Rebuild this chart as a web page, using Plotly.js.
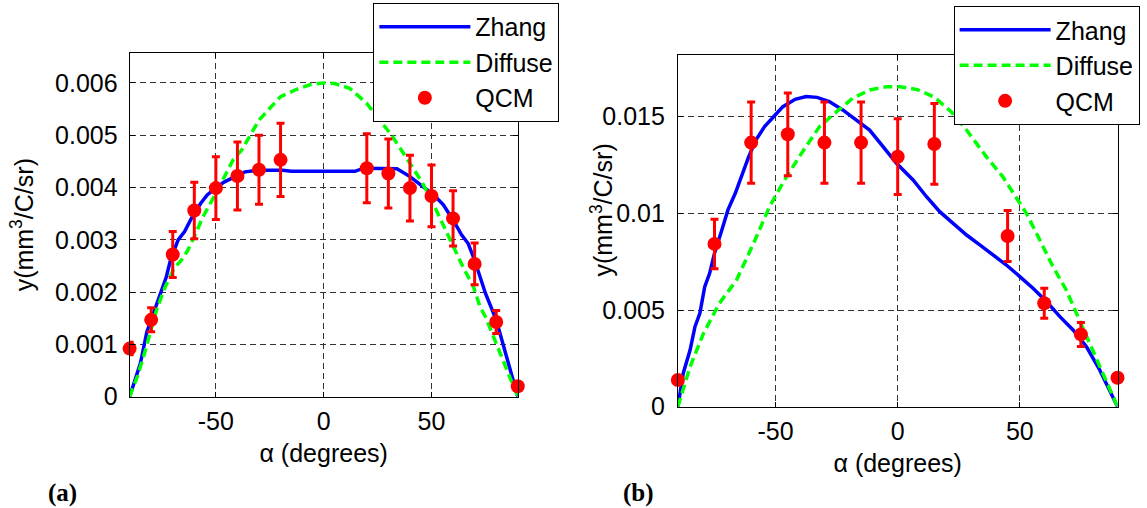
<!DOCTYPE html>
<html>
<head>
<meta charset="utf-8">
<script src="https://cdn.plot.ly/plotly-3.0.1.min.js"></script>
<style>
html,body{margin:0;padding:0;background:#fff;}
#chart{width:1147px;height:508px;}
</style>
</head>
<body>
<div id="chart"></div>
<script>
// ---------- Panel (a) data ----------
const zhangAx = [-90,-85,-82,-80.5,-76,-73,-71,-67.5,-64.5,-61,-57,-54,-50.5,-46,-41,-36.5,-31,-19,-15,14.5,18.5,34,40,46,51,55.5,60,64,67,70,72.5,75,80,85,90];
const zhangAy = [0,0.00064,0.00124,0.00142,0.00191,0.00229,0.00262,0.00300,0.00316,0.00344,0.00370,0.00386,0.00398,0.00411,0.00421,0.00430,0.00433,0.00433,0.00431,0.00431,0.00437,0.00436,0.00421,0.00403,0.00386,0.00367,0.00338,0.00309,0.00293,0.00261,0.00229,0.00198,0.00147,0.00073,0];

const diffAx = [-90,-86.5,-83.5,-80.5,-77.5,-73.5,-69.5,-66,-63,-60,-56,-52.5,-49.5,-46,-42,-38,-30,-20,-12.5,-6,0,5,12,20,26,31.5,36,41,45.5,50,54.5,59.5,64.5,69.5,72.5,75,80,85,90];
const diffAy = [0,0.00038,0.00077,0.00121,0.00166,0.00210,0.00245,0.00261,0.00280,0.00306,0.00344,0.00370,0.00395,0.00421,0.00453,0.00472,0.00529,0.00574,0.00588,0.00597,0.00600,0.00599,0.00590,0.00561,0.00529,0.00500,0.00472,0.00440,0.00411,0.00376,0.00338,0.00293,0.00249,0.00210,0.00172,0.00153,0.00102,0.00051,0];

const qcmAx = [-90,-80,-70,-60,-50,-40,-30,-20,20,30,40,50,60,70,80,90];
const qcmAy = [0.00092,0.00147,0.00272,0.00356,0.00399,0.00422,0.00434,0.00453,0.00437,0.00427,0.00399,0.00384,0.00341,0.00254,0.00143,0.00020];
const qcmAerr = [0.00012,0.00023,0.00044,0.00054,0.00060,0.00065,0.00066,0.00070,0.00066,0.00066,0.00063,0.00059,0.00053,0.00040,0.00022,0];

// ---------- Panel (b) data ----------
const zhangBx = [-90,-87.8,-85,-83,-81,-79,-77,-75,-72,-69.5,-66.5,-64,-61,-58,-54.5,-51,-47,-42,-37.5,-33,-28,-22.5,-17,-11.5,-6,-0.5,6.3,11.8,17.2,22.7,28.2,33.6,39.1,44.5,50,55.4,61,66.4,71.8,77.3,82.7,86.8,90];
const zhangBy = [0,0.00173,0.00293,0.00414,0.00483,0.00621,0.00690,0.00794,0.00914,0.01018,0.01104,0.01190,0.01293,0.01380,0.01449,0.01497,0.01552,0.01590,0.01604,0.01600,0.01578,0.01535,0.01483,0.01431,0.01345,0.01259,0.01173,0.01086,0.01009,0.00949,0.00888,0.00837,0.00785,0.00733,0.00673,0.00613,0.00543,0.00466,0.00397,0.00310,0.00190,0.00086,0];

const diffBx = [-90,-85,-79.5,-73,-66,-59,-52.5,-45.5,-38.5,-32,-25,-18.5,-11.5,-4.5,1,8,14.8,22,28.2,36.3,43,49.3,52.7,58.2,63.6,69,73.2,77.3,82.7,86.8,90];
const diffBy = [0,0.00207,0.00380,0.00535,0.00655,0.00845,0.01035,0.01190,0.01328,0.01449,0.01526,0.01595,0.01638,0.01655,0.01655,0.01640,0.01603,0.01525,0.01431,0.01293,0.01190,0.01069,0.01000,0.00862,0.00724,0.00604,0.00483,0.00362,0.00207,0.00086,0];

const qcmBx = [-90,-75,-60,-45,-30,-15,0,15,45,60,75,90];
const qcmBy = [0.00138,0.00842,0.01366,0.01409,0.01366,0.01366,0.01293,0.01359,0.00883,0.00535,0.00374,0.00150];
const qcmBerr = [0,0.00128,0.00210,0.00214,0.00210,0.00210,0.00196,0.00209,0.00132,0.00078,0.00062,0];

// ---------- tick labels & texts ----------
const xTickVals = [-50,0,50];
const xTickText = ['-50','0','50'];
const yTickValsA = [0,0.001,0.002,0.003,0.004,0.005,0.006];
const yTickTextA = ['0','0.001','0.002','0.003','0.004','0.005','0.006'];
const yTickValsB = [0,0.005,0.01,0.015];
const yTickTextB = ['0','0.005','0.01','0.015'];

const seriesNames = ['Zhang','Diffuse','QCM'];
const panelLabels = ['(a)','(b)'];
const xTitleText = 'α (degrees)';
const yTitleText = 'y(mm<sup>3</sup>/C/sr)';

const FONT = 'Liberation Sans, Arial, Helvetica, sans-serif';
const SERIF = 'Liberation Serif, Times New Roman, serif';
const BLUE = '#0000ff', GREEN = '#00ff00', RED = '#ff0000';

function lineTrace(x, y, name, color, dash, xa, ya, lg) {
  return {x: x, y: y, name: name, type: 'scatter', mode: 'lines',
    line: {color: color, width: 3.5, dash: dash},
    xaxis: xa, yaxis: ya, legend: lg, hoverinfo: 'skip', cliponaxis: false};
}
function qcmTrace(x, y, err, xa, ya, lg) {
  return {x: x, y: y, name: seriesNames[2], type: 'scatter', mode: 'markers',
    marker: {color: RED, size: 14},
    error_y: {type: 'data', array: err, visible: true, color: RED, thickness: 3, width: 4},
    xaxis: xa, yaxis: ya, legend: lg, hoverinfo: 'skip', cliponaxis: false};
}

const data = [
  lineTrace(zhangAx, zhangAy, seriesNames[0], BLUE, 'solid', 'x', 'y', 'legend'),
  lineTrace(diffAx, diffAy, seriesNames[1], GREEN, '9px,5px', 'x', 'y', 'legend'),
  qcmTrace(qcmAx, qcmAy, qcmAerr, 'x', 'y', 'legend'),
  lineTrace(zhangBx, zhangBy, seriesNames[0], BLUE, 'solid', 'x2', 'y2', 'legend2'),
  lineTrace(diffBx, diffBy, seriesNames[1], GREEN, '9px,5px', 'x2', 'y2', 'legend2'),
  qcmTrace(qcmBx, qcmBy, qcmBerr, 'x2', 'y2', 'legend2')
];

function baseAxis() {
  return {
    showline: true, linecolor: '#000', linewidth: 1, mirror: 'ticks',
    ticks: 'inside', ticklen: 5, tickcolor: '#000', tickwidth: 1,
    showgrid: true, gridcolor: '#333', gridwidth: 1, griddash: '6px,4px',
    zeroline: false, tickfont: {family: FONT, size: 25, color: '#000'},
    fixedrange: true
  };
}

const titleFont = {family: FONT, size: 25, color: '#000'};

const layout = {
  width: 1147, height: 508,
  margin: {l: 0, r: 0, t: 0, b: 0},
  paper_bgcolor: '#fff', plot_bgcolor: '#fff',
  font: {family: FONT, size: 25, color: '#000'},
  xaxis: Object.assign(baseAxis(), {domain: [0.1130, 0.4514], range: [-90, 90], anchor: 'y',
    tickvals: xTickVals, ticktext: xTickText, ticklabelstandoff: 2,
    title: {text: xTitleText, font: titleFont, standoff: 10}}),
  yaxis: Object.assign(baseAxis(), {domain: [0.2191, 0.8963], range: [0, 0.00658], anchor: 'x',
    tickvals: yTickValsA, ticktext: yTickTextA, ticklabelstandoff: 6,
    title: {text: yTitleText, font: titleFont, standoff: 14}}),
  xaxis2: Object.assign(baseAxis(), {domain: [0.5910, 0.9743], range: [-90, 90], anchor: 'y2',
    tickvals: xTickVals, ticktext: xTickText, ticklabelstandoff: 2,
    title: {text: xTitleText, font: titleFont, standoff: 10}}),
  yaxis2: Object.assign(baseAxis(), {domain: [0.1994, 0.8913], range: [0, 0.01818], anchor: 'x2',
    tickvals: yTickValsB, ticktext: yTickTextB, ticklabelstandoff: 7}),
  legend: {x: 0.3255, y: 0.9941, xanchor: 'left', yanchor: 'top', bgcolor: '#fff',
    bordercolor: '#000', borderwidth: 1, font: {family: FONT, size: 25, color: '#000'},
    itemwidth: 91},
  legend2: {x: 0.8314, y: 0.9880, xanchor: 'left', yanchor: 'top', bgcolor: '#fff',
    bordercolor: '#000', borderwidth: 1, font: {family: FONT, size: 25, color: '#000'},
    itemwidth: 91},
  annotations: [
    {text: yTitleText, xref: 'paper', yref: 'paper', x: 0.5245, y: 0.5866,
      xanchor: 'center', yanchor: 'middle', textangle: -90, showarrow: false, font: titleFont},
    {text: '<b>' + panelLabels[0] + '</b>', xref: 'paper', yref: 'paper', x: 0.0545, y: 0.0301,
      xanchor: 'center', yanchor: 'middle', showarrow: false,
      font: {family: SERIF, size: 25, color: '#000'}},
    {text: '<b>' + panelLabels[1] + '</b>', xref: 'paper', yref: 'paper', x: 0.5567, y: 0.0301,
      xanchor: 'center', yanchor: 'middle', showarrow: false,
      font: {family: SERIF, size: 25, color: '#000'}}
  ]
};

Plotly.newPlot('chart', data, layout, {displayModeBar: false, staticPlot: true});
</script>
</body>
</html>
